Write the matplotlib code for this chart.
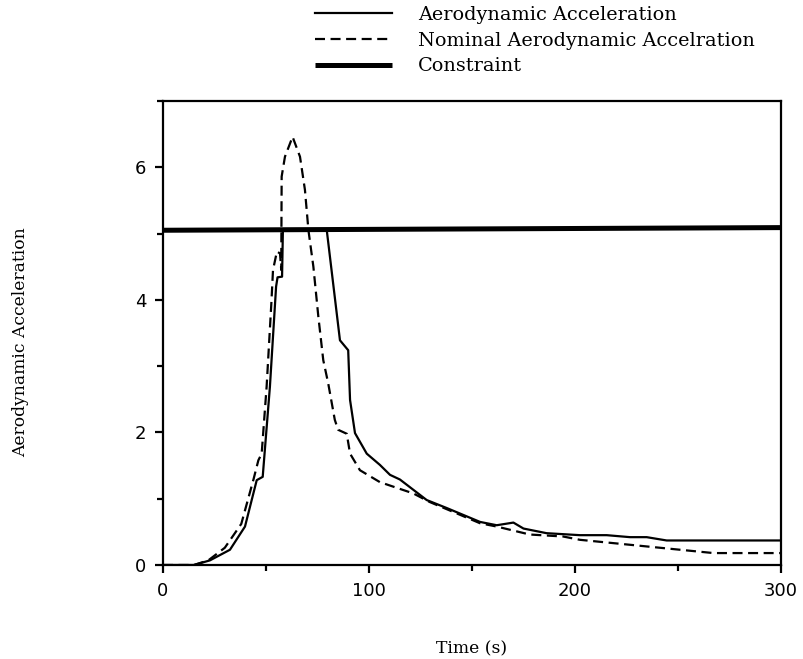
import matplotlib
matplotlib.use("Agg")
from matplotlib import pyplot as plt
from matplotlib.ticker import MultipleLocator

# values
time_aero = [0, 15, 22.8, 32.5, 39.8, 45.5, 48.4, 51.9, 54.9, 55.6, 57.8,
             58.2, 79.5, 85.9, 89.9, 90.8, 93.2, 98.9, 105.3, 110.2, 115,
             128, 137.7, 153.9, 162, 170.1, 175, 186.2, 202.4, 215.4, 226.7,
             234.8, 244.5, 300]
aero = [0, 0, 0.07, 0.23, 0.58, 1.28, 1.33, 2.69, 4.2, 4.34, 4.35, 5.05,
        5.05, 3.39, 3.24, 2.49, 1.99, 1.68, 1.51, 1.36, 1.29, 0.98, 0.86,
        0.65, 0.60, 0.64, 0.55, 0.48, 0.45, 0.45, 0.42, 0.42, 0.37, 0.37]

time_nom = [0, 15, 22, 30, 38, 44, 46.3, 47.9, 50.3, 52.6, 53.4,
            55.3, 56.8, 57.4, 57.6, 59.2, 62.9, 66.5, 68.9, 70.6, 73, 75.4,
            77.8, 80.2, 83.4, 85, 89.2, 90.8, 95.6, 105.3, 121.5, 129.5,
            153.9, 162, 178, 194.2, 202.4, 218.6, 234.8, 251, 267.2, 300]
nominal = [0, 0, 0.07, 0.26, 0.62, 1.3, 1.58, 1.68, 2.69, 3.95, 4.45,
           4.73, 4.70, 4.45, 5.86, 6.16, 6.46, 6.16, 5.66, 5.05, 4.5, 3.75,
           3.09, 2.74, 2.19, 2.04, 1.98, 1.68, 1.43, 1.25, 1.08, 0.95, 0.63,
           0.58, 0.46, 0.43, 0.38, 0.33, 0.28, 0.23, 0.18, 0.18]

time_con = [0, 300]
constraint = [5.05, 5.09]

labels = ['Aerodynamic Acceleration', 'Nominal Aerodynamic Accelration',
          'Constraint']


def main():
    fig = plt.figure(figsize=(8.04, 6.59), dpi=100)
    ax = fig.add_axes([163 / 804, 1 - 565 / 659, 618 / 804, 464 / 659])

    l1, = ax.plot(time_aero, aero, color='black', lw=1.6)
    l2, = ax.plot(time_nom, nominal, color='black', lw=1.6,
                  dashes=(4.5, 2.5))
    l3, = ax.plot(time_con, constraint, color='black', lw=3.6,
                  solid_capstyle='butt')

    ax.set_xlim(0, 300)
    ax.set_ylim(0, 7)
    ax.xaxis.set_major_locator(MultipleLocator(100))
    ax.xaxis.set_minor_locator(MultipleLocator(50))
    ax.yaxis.set_major_locator(MultipleLocator(2))
    ax.yaxis.set_minor_locator(MultipleLocator(1))
    ax.tick_params(which='both', direction='out', width=1.6,
                   labelsize=13, pad=6)
    ax.tick_params(which='major', length=6)
    ax.tick_params(which='minor', length=4)
    for side in ax.spines.values():
        side.set_linewidth(1.6)

    ax.set_xlabel('Time (s)', family='DejaVu Serif', fontsize=12.3)
    ax.xaxis.set_label_coords(0.5, -(640 - 565) / 464)
    ax.set_ylabel('Aerodynamic Acceleration', family='DejaVu Serif',
                  fontsize=12.3)
    ax.yaxis.set_label_coords(-(163 - 29) / 618, 0.48)

    fig.legend([l1, l2, l3], labels, loc='upper left',
               bbox_to_anchor=(311 / 804, 1 - 2 / 659), frameon=False,
               prop={'family': 'DejaVu Serif', 'size': 13.9},
               handlelength=4.0, handletextpad=1.35, labelspacing=0.4,
               borderaxespad=0, borderpad=0.2)

    fig.savefig('out.png', dpi=100)


if __name__ == "__main__":
    main()
